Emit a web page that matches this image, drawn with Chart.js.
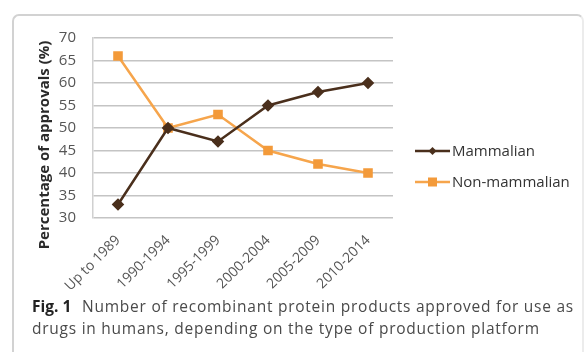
<!DOCTYPE html>
<html>
<head>
<meta charset="utf-8">
<script src="https://cdn.jsdelivr.net/npm/chart.js@4"></script>
<style>
  html, body { margin: 0; padding: 0; background: #fff; }
  body { width: 587px; height: 352px; position: relative; overflow: hidden; font-family: "Open Sans", "Noto Sans", sans-serif; }
  .frame {
    position: absolute; left: 12px; top: 14px; width: 568px; height: 360px;
    border: 2px solid #d2d2d2; border-right-color: #ececec; border-radius: 7px 7px 0 0;
  }
  #wrap { position: absolute; left: 0; top: 0; width: 587px; height: 300px; }
  .caption {
    position: absolute; left: 32px; top: 295px; width: 560px; white-space: nowrap;
    font-size: 15.5px; line-height: 22px; color: #4a4a4a; letter-spacing: 0.75px;
  }
  .caption b { color: #222; font-weight: 700; margin-right: 6px; letter-spacing: 0; }
</style>
</head>
<body>
<div class="frame"></div>
<div id="wrap"><canvas id="c" width="587" height="300"></canvas></div>
<div class="caption"><b>Fig. 1</b> Number of recombinant protein products approved for use as<br>drugs in humans, depending on the type of production platform</div>
<script>
// Approval periods and share of approvals per production platform (%)
const periods = ["Up to 1989", "1990-1994", "1995-1999", "2000-2004", "2005-2009", "2010-2014"];
const mammalian = [33, 50, 47, 55, 58, 60];
const nonMammalian = [66, 50, 53, 45, 42, 40];
const yTicks = [30, 35, 40, 45, 50, 55, 60, 65, 70];
const yTitle = 'Percentage of approvals (%)';

const FONT = '"Open Sans", "Noto Sans", sans-serif';

// Rotated y-axis title, set a little below the plot's centre
const yAxisTitle = {
  id: 'yAxisTitle',
  afterDraw(chart) {
    const ctx = chart.ctx;
    ctx.save();
    ctx.translate(45, 145);
    ctx.rotate(-Math.PI / 2);
    ctx.fillStyle = '#2a2a2a';
    ctx.font = 'bold 15px ' + FONT;
    ctx.textAlign = 'center';
    ctx.textBaseline = 'middle';
    ctx.fillText(yTitle, 0, 0);
    ctx.restore();
  }
};

// Legend drawn beside the plot: a short line with the series marker, then the name
const sideLegend = {
  id: 'sideLegend',
  afterDraw(chart) {
    const ctx = chart.ctx;
    const x0 = 415, x1 = 450;
    const rows = [151, 182];
    chart.data.datasets.forEach((ds, i) => {
      const y = rows[i];
      ctx.save();
      ctx.strokeStyle = ds.borderColor;
      ctx.lineWidth = 2.5;
      ctx.beginPath(); ctx.moveTo(x0, y); ctx.lineTo(x1, y); ctx.stroke();
      ctx.fillStyle = ds.pointBackgroundColor;
      const cx = (x0 + x1) / 2;
      if (ds.pointStyle === 'rectRot') {
        ctx.beginPath();
        ctx.moveTo(cx, y - 4); ctx.lineTo(cx + 4, y); ctx.lineTo(cx, y + 4); ctx.lineTo(cx - 4, y);
        ctx.closePath(); ctx.fill();
      } else {
        ctx.fillRect(cx - 4.5, y - 4.5, 9, 9);
      }
      ctx.fillStyle = '#333';
      ctx.font = '15px ' + FONT;
      ctx.textBaseline = 'middle';
      ctx.textAlign = 'left';
      ctx.fillText(ds.label, x1 + 2, y + 1);
      ctx.restore();
    });
  }
};

new Chart(document.getElementById('c'), {
  type: 'line',
  data: {
    labels: periods,
    datasets: [
      {
        label: 'Mammalian', data: mammalian,
        borderColor: '#4a2f1c', backgroundColor: '#4a2f1c',
        pointBackgroundColor: '#4a2f1c', pointBorderColor: '#4a2f1c',
        pointStyle: 'rectRot', pointRadius: 4.5, borderWidth: 2.5, tension: 0
      },
      {
        label: 'Non-mammalian', data: nonMammalian,
        borderColor: '#f6a54c', backgroundColor: '#f6a54c',
        pointBackgroundColor: '#f39a3a', pointBorderColor: '#f39a3a',
        pointStyle: 'rect', pointRadius: 5, borderWidth: 2.5, tension: 0
      }
    ]
  },
  options: {
    responsive: false,
    animation: false,
    layout: { padding: { left: 53, right: 194, top: 38, bottom: 0 } },
    plugins: { legend: { display: false }, tooltip: { enabled: false } },
    scales: {
      x: {
        offset: true,
        grid: { display: false, drawTicks: false },
        border: { display: false },
        ticks: {
          maxRotation: 45, minRotation: 45, padding: 14,
          color: '#555', font: { size: 14, family: FONT }
        },
        afterFit(scale) { scale.height = 82; }
      },
      y: {
        min: 30, max: 70,
        afterBuildTicks(scale) { scale.ticks = yTicks.map(v => ({ value: v })); },
        grid: { color: '#c4c4c4', lineWidth: 1.5, drawTicks: false },
        border: { display: true, color: '#d0d0d0', width: 1.5 },
        ticks: {
          padding: 17, color: '#555',
          font: { size: 15, family: FONT }
        },
        afterFit(scale) { scale.width = 40; }
      }
    }
  },
  plugins: [sideLegend, yAxisTitle]
});
</script>
</body>
</html>
